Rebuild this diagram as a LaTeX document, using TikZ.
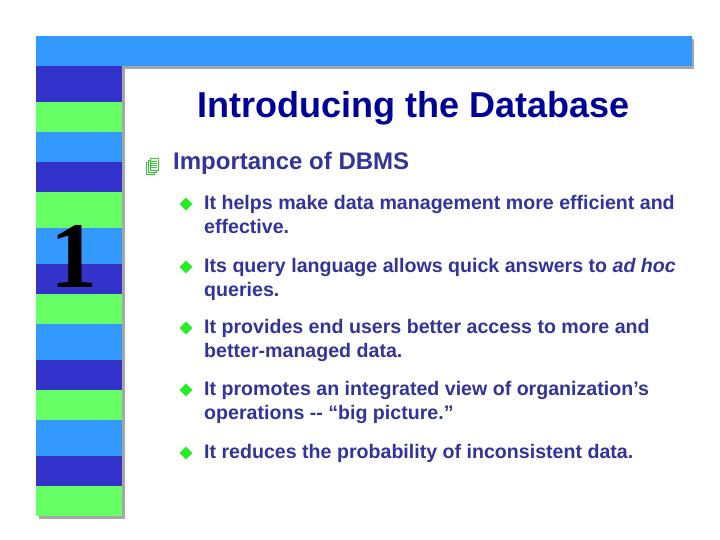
\documentclass[tikz,border=0pt]{standalone}
\usepackage{fontspec}
\setmainfont{Liberation Sans}
\newfontfamily\serifone{Liberation Serif}
\definecolor{sblue}{HTML}{3399FF}
\definecolor{sdark}{HTML}{3333CC}
\definecolor{sgreen}{HTML}{66FF66}
\definecolor{txt}{HTML}{333399}
\definecolor{ttl}{HTML}{000099}
\definecolor{icon}{HTML}{33CC33}
\definecolor{diac}{HTML}{22EE22}
\tikzset{bul/.style={anchor=north west,text=txt,font=\fontsize{19.6}{24.5}\selectfont\bfseries,align=left,inner sep=0pt},
dia/.style={fill=diac,draw=none,diamond,minimum size=13pt,inner sep=0pt}}
\usetikzlibrary{shapes.geometric}
\begin{document}
\begin{tikzpicture}[x=1pt,y=-1pt]
\useasboundingbox (0,0) rectangle (720,540);
\fill[white] (0,0) rectangle (720,540);
% shadows
\fill[gray!70] (39,39) rectangle (694,69);
\fill[gray!70] (39,66) rectangle (125,519);
\fill[sblue] (36,36) rectangle (692,66);
\foreach \a/\b/\c in {66/102/sdark,102/132/sgreen,132/162/sblue,162/192/sdark,192/228/sgreen,228/264/sblue,264/294/sdark,294/324/sgreen,324/360/sblue,360/390/sdark,390/420/sgreen,420/456/sblue,456/486/sdark,486/516/sgreen}
  \fill[\c] (36,\a) rectangle (122,\b);
\node[font=\serifone\bfseries\fontsize{94}{94}\selectfont,inner sep=0pt] (one) at (74,256) {1};
\node[text=ttl,font=\fontsize{36}{36}\selectfont\bfseries,inner sep=0pt] (title) at (414,108) {Introducing the Database};
% icon
\foreach \d in {0,2,4}{
 \draw[icon,fill=white,line width=0.8pt] (146+\d,162-\d) rectangle (154+\d,174-\d);}
\foreach \yy in {161,163,165,167}\draw[icon,line width=0.6pt] (151,\yy)--(157,\yy);
\node[anchor=west,text=txt,font=\fontsize{24}{24}\selectfont\bfseries,inner sep=0pt] (head) at (173,163) {Importance of DBMS};
\foreach \y/\t [count=\i] in {195/{It helps make data management more efficient and\\effective.},
 258/{Its query language allows quick answers to \textit{ad hoc}\\queries.},
 319/{It provides end users better access to more and\\better-managed data.},
 381/{It promotes an integrated view of organization’s\\operations -{}- “big picture.”},
 444/{It reduces the probability of inconsistent data.}}{
 \node[dia] (d\i) at (186,\y+9) {};
 \node[bul] (b\i) at (204,\y) {\t};}
\end{tikzpicture}
\end{document}
